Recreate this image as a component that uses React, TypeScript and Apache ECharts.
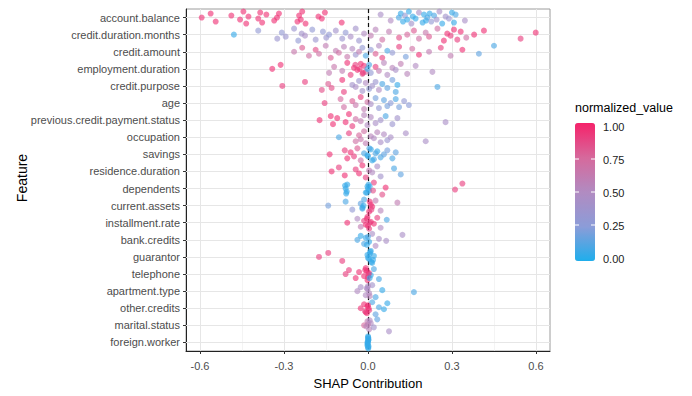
import React, { useEffect, useRef } from "react";
import * as echarts from "echarts";

const FEATURES = [
  "account.balance",
  "credit.duration.months",
  "credit.amount",
  "employment.duration",
  "credit.purpose",
  "age",
  "previous.credit.payment.status",
  "occupation",
  "savings",
  "residence.duration",
  "dependents",
  "current.assets",
  "installment.rate",
  "bank.credits",
  "guarantor",
  "telephone",
  "apartment.type",
  "other.credits",
  "marital.status",
  "foreign.worker",
];

// [SHAP contribution, normalized_value]
const ACCOUNT_BALANCE = [
  [-0.594, 0.95], [-0.562, 0.95], [-0.544, 0.95], [-0.488, 0.95], [-0.457, 0.95], [-0.445, 0.95],
  [-0.435, 0.95], [-0.427, 0.95], [-0.392, 0.95], [-0.385, 0.95], [-0.378, 0.95], [-0.363, 0.95],
  [-0.335, 0.95], [-0.325, 0.95], [-0.318, 0.95], [-0.252, 0.95], [-0.246, 0.95], [-0.24, 0.95],
  [-0.235, 0.95], [-0.223, 0.95], [-0.177, 0.95], [-0.165, 0.95], [-0.154, 0.95], [-0.094, 0.95],
  [0.045, 0.45], [0.081, 0.5], [0.11, 0.1], [0.117, 0.05], [0.125, 0.05], [0.132, 0.3], [0.14, 0.05],
  [0.146, 0.05], [0.155, 0.4], [0.16, 0.05], [0.17, 0.05], [0.182, 0.45], [0.195, 0.05], [0.2, 0.05],
  [0.207, 0.05], [0.212, 0.1], [0.22, 0.05], [0.226, 0.3], [0.236, 0.1], [0.245, 0.4], [0.255, 0.45],
  [0.265, 0.05], [0.277, 0.4], [0.289, 0.35], [0.3, 0.05], [0.307, 0.05], [0.313, 0.1], [0.346, 0.45],
];
const CREDIT_DURATION = [
  [-0.479, 0.05], [-0.392, 0.3], [-0.324, 0.35], [-0.308, 0.3], [-0.294, 0.35], [-0.264, 0.35],
  [-0.249, 0.3], [-0.237, 0.4], [-0.225, 0.45], [-0.199, 0.3], [-0.187, 0.35], [-0.161, 0.3],
  [-0.149, 0.35], [-0.139, 0.3], [-0.115, 0.4], [-0.092, 0.35], [-0.08, 0.3], [-0.062, 0.45],
  [-0.044, 0.4], [-0.032, 0.35], [-0.014, 0.5], [0.01, 0.6], [0.027, 0.55], [0.051, 0.7], [0.075, 0.6],
  [0.111, 0.85], [0.14, 0.75], [0.164, 0.8], [0.182, 0.7], [0.206, 0.65], [0.218, 0.8], [0.248, 0.7],
  [0.271, 0.95], [0.283, 0.95], [0.295, 0.9], [0.307, 0.95], [0.319, 0.9], [0.331, 0.95], [0.351, 0.7],
  [0.379, 0.95], [0.414, 0.95], [0.545, 0.9], [0.599, 0.95],
];
const CREDIT_AMOUNT = [
  [-0.264, 0.65], [-0.235, 0.8], [-0.211, 0.7], [-0.187, 0.85], [-0.175, 0.7], [-0.151, 0.6],
  [-0.133, 0.8], [-0.115, 0.6], [-0.104, 0.7], [-0.086, 0.55], [-0.074, 0.65], [-0.056, 0.5],
  [-0.044, 0.35], [-0.032, 0.6], [-0.02, 0.3], [-0.008, 0.1], [0.01, 0.3], [0.027, 0.8], [0.039, 0.5],
  [0.051, 0.9], [0.069, 0.1], [0.087, 0.3], [0.111, 0.9], [0.135, 0.2], [0.158, 0.7], [0.182, 0.95],
  [0.218, 0.6], [0.26, 0.9], [0.295, 0.6], [0.337, 0.95], [0.396, 0.15], [0.45, 0.1],
];
const EMPLOYMENT_DURATION = [
  [-0.342, 0.95], [-0.312, 0.95], [-0.139, 0.6], [-0.121, 0.65], [-0.092, 0.6], [-0.074, 0.95],
  [-0.062, 0.9], [-0.05, 0.95], [-0.038, 0.95], [-0.026, 0.95], [-0.02, 0.8], [-0.014, 0.95],
  [-0.008, 0.7], [-0.002, 0.05], [0.004, 0.1], [0.01, 0.3], [0.027, 0.9], [0.039, 0.6], [0.057, 0.55],
  [0.069, 0.5], [0.087, 0.55], [0.099, 0.45], [0.117, 0.6], [0.14, 0.55], [0.17, 0.5], [0.23, 0.5],
  [-0.03, 0.95], [-0.045, 0.9], [-0.018, 0.95],
];
const CREDIT_PURPOSE = [
  [-0.306, 0.9], [-0.225, 0.9], [-0.165, 0.85], [-0.142, 0.8], [-0.13, 0.85], [-0.092, 0.95],
  [-0.086, 0.9], [-0.056, 0.4], [-0.044, 0.45], [-0.032, 0.35], [-0.02, 0.4], [-0.008, 0.5],
  [0.004, 0.3], [0.015, 0.4], [0.027, 0.35], [0.039, 0.5], [0.051, 0.1], [0.069, 0.15], [0.087, 0.2],
  [0.099, 0.1], [0.105, 0.05], [0.248, 0.1],
];
const AGE = [
  [-0.155, 0.9], [-0.098, 0.75], [-0.086, 0.7], [-0.056, 0.8], [-0.044, 0.65], [-0.026, 0.9],
  [-0.014, 0.6], [-0.002, 0.7], [0.01, 0.45], [0.027, 0.2], [0.039, 0.3], [0.057, 0.15], [0.069, 0.2],
  [0.081, 0.25], [0.099, 0.1], [0.111, 0.2], [0.129, 0.3], [0.146, 0.25],
];
const PREVIOUS_CREDIT = [
  [-0.173, 0.95], [-0.133, 0.95], [-0.125, 0.95], [-0.11, 0.95], [-0.08, 0.95], [-0.068, 0.95],
  [-0.056, 0.9], [-0.044, 0.7], [-0.026, 0.6], [-0.014, 0.55], [-0.002, 0.5], [0.01, 0.5], [0.027, 0.45],
  [0.045, 0.4], [0.063, 0.1], [0.087, 0.35], [0.105, 0.4], [0.277, 0.45],
];
const OCCUPATION = [
  [-0.104, 0.1], [-0.068, 0.9], [-0.044, 0.7], [-0.032, 0.75], [-0.026, 0.65], [-0.014, 0.7],
  [-0.008, 0.6], [0.01, 0.55], [0.021, 0.5], [0.033, 0.55], [0.045, 0.45], [0.057, 0.5], [0.069, 0.35],
  [0.081, 0.45], [0.135, 0.45], [0.206, 0.45],
];
const SAVINGS = [
  [-0.137, 0.95], [-0.083, 0.9], [-0.074, 0.95], [-0.062, 0.95], [-0.05, 0.9], [-0.038, 0.8],
  [-0.026, 0.7], [-0.014, 0.1], [-0.002, 0.05], [0.01, 0.05], [0.021, 0.1], [0.033, 0.05], [0.045, 0.1],
  [0.057, 0.15], [0.069, 0.2], [0.087, 0.1], [0.099, 0.15],
  [0.0, 0.05], [0.005, 0.1], [0.015, 0.05], [0.027, 0.1],
];
const RESIDENCE_DURATION = [
  [-0.13, 0.95], [-0.104, 0.9], [-0.083, 0.95], [-0.044, 0.9], [-0.032, 0.95], [-0.02, 0.95],
  [-0.008, 0.9], [0.004, 0.6], [0.015, 0.5], [0.033, 0.45], [0.045, 0.4], [0.093, 0.1], [0.117, 0.15],
];
const DEPENDENTS = [
  [-0.08, 0.05], [-0.074, 0.05], [-0.008, 0.05], [-0.002, 0.05], [0.004, 0.05], [0.021, 0.9],
  [0.051, 0.85], [0.063, 0.95], [0.311, 0.9], [0.337, 0.9],
  [-0.078, 0.05], [-0.082, 0.05], [-0.076, 0.05], [0.0, 0.05], [0.002, 0.05], [-0.004, 0.05],
  [0.006, 0.05], [0.018, 0.85],
];
const CURRENT_ASSETS = [
  [-0.142, 0.2], [-0.08, 0.1], [-0.056, 0.3], [-0.026, 0.15], [-0.02, 0.05], [-0.014, 0.1],
  [0.004, 0.95], [0.01, 0.9], [0.015, 0.95], [0.027, 0.6], [0.045, 0.55], [0.105, 0.6],
  [-0.02, 0.1], [-0.016, 0.05], [0.006, 0.95], [0.012, 0.9],
];
const INSTALLMENT_RATE = [
  [-0.074, 0.95], [-0.038, 0.5], [-0.026, 0.6], [-0.014, 0.9], [-0.008, 0.95], [-0.002, 0.95],
  [0.004, 0.9], [0.01, 0.95], [0.021, 0.95], [0.033, 0.9], [0.045, 0.5], [0.067, 0.1],
  [0.0, 0.95], [0.006, 0.9], [-0.004, 0.95],
];
const BANK_CREDITS = [
  [-0.038, 0.1], [-0.026, 0.05], [-0.014, 0.1], [-0.008, 0.05], [0.004, 0.05], [0.015, 0.45],
  [0.027, 0.5], [0.039, 0.45], [0.065, 0.45], [0.123, 0.45],
  [-0.004, 0.05], [0.0, 0.1],
];
const GUARANTOR = [
  [-0.175, 0.9], [-0.142, 0.9], [-0.092, 0.9], [-0.002, 0.05], [0.004, 0.05], [0.01, 0.05],
  [0.015, 0.05], [0.021, 0.05],
  [0.0, 0.05], [0.008, 0.05], [0.012, 0.05], [0.006, 0.05], [0.018, 0.05],
];
const TELEPHONE = [
  [-0.08, 0.9], [-0.068, 0.9], [-0.044, 0.95], [-0.032, 0.95], [-0.014, 0.95], [-0.008, 0.95],
  [-0.002, 0.95], [0.004, 0.95], [0.01, 0.05], [0.021, 0.1], [0.039, 0.1],
  [-0.004, 0.95], [0.0, 0.95], [0.002, 0.9], [-0.01, 0.95], [0.006, 0.05],
];
const APARTMENT_TYPE = [
  [-0.038, 0.5], [-0.026, 0.45], [-0.008, 0.5], [-0.002, 0.55], [0.004, 0.5], [0.015, 0.4],
  [0.027, 0.1], [0.051, 0.05], [0.164, 0.1],
  [0.0, 0.5], [0.006, 0.55], [-0.004, 0.45],
];
const OTHER_CREDITS = [
  [-0.026, 0.95], [-0.014, 0.95], [-0.008, 0.95], [-0.002, 0.95], [0.004, 0.9], [0.015, 0.1],
  [0.027, 0.15], [0.039, 0.1], [0.057, 0.05], [0.069, 0.05],
  [-0.004, 0.95], [0.0, 0.95], [-0.01, 0.9], [0.002, 0.95],
];
const MARITAL_STATUS = [
  [-0.014, 0.75], [-0.002, 0.6], [0.004, 0.55], [0.01, 0.5], [0.021, 0.4], [0.033, 0.15], [0.075, 0.45],
  [0.0, 0.6], [-0.006, 0.55], [0.006, 0.5],
];
const FOREIGN_WORKER = [
  [-0.002, 0.05], [0.0, 0.05], [0.002, 0.05], [0.001, 0.05], [-0.001, 0.05], [0.0, 0.05], [0.001, 0.05],
  [0.0, 0.05], [-0.001, 0.05], [0.001, 0.05], [0.0, 0.05], [0.002, 0.05], [-0.002, 0.05],
];

const VALUES_BY_FEATURE = [
  ACCOUNT_BALANCE, CREDIT_DURATION, CREDIT_AMOUNT, EMPLOYMENT_DURATION, CREDIT_PURPOSE, AGE,
  PREVIOUS_CREDIT, OCCUPATION, SAVINGS, RESIDENCE_DURATION, DEPENDENTS, CURRENT_ASSETS,
  INSTALLMENT_RATE, BANK_CREDITS, GUARANTOR, TELEPHONE, APARTMENT_TYPE, OTHER_CREDITS,
  MARITAL_STATUS, FOREIGN_WORKER,
];

const X_MAJOR = [-0.6, -0.3, 0, 0.3, 0.6];
const X_MINOR = [-0.45, -0.15, 0.15, 0.45];
const LEGEND_TICKS = [1.0, 0.75, 0.5, 0.25, 0.0];

// style constants
const JITTER = [0, -4, 4, -2, 2, -6, 6, -1, 1, -5, 5, -3, 3];
const COLORS = ["#1FAEEC", "#8C9CD8", "#B18BC1", "#D6699C", "#F5226A"];
const FONT = "Liberation Sans, Arial, sans-serif";
const BAR_LEFT = 575;
const BAR_TOP = 123;
const BAR_W = 20;
const BAR_H = 138;

export default function App() {
  const ref = useRef<HTMLDivElement>(null);

  useEffect(() => {
    document.body.style.margin = "0";
    document.body.style.overflow = "hidden";
    if (!ref.current) return;
    const chart = echarts.init(ref.current, null, { renderer: "svg" });

    const points: any[] = [];
    VALUES_BY_FEATURE.forEach((arr, fi) => {
      arr.forEach(([s, v], i) => {
        points.push({
          value: [s, FEATURES[fi], v],
          symbolOffset: [0, JITTER[i % JITTER.length]],
        });
      });
    });

    const gridLines: any[] = [
      ...X_MINOR.map((x) => ({ xAxis: x, lineStyle: { color: "#EDEDED", width: 0.6, type: "solid" } })),
      ...X_MAJOR.map((x) => ({ xAxis: x, lineStyle: { color: "#E6E6E6", width: 1, type: "solid" } })),
      ...FEATURES.map((f) => ({ yAxis: f, lineStyle: { color: "#E6E6E6", width: 1, type: "solid" } })),
      { xAxis: 0, lineStyle: { color: "#111", width: 1.2, type: [4, 3] } },
    ];

    const legendGraphics: any[] = [];
    LEGEND_TICKS.forEach((v) => {
      const y = BAR_TOP + 3 + (1 - v) * (BAR_H - 6);
      legendGraphics.push({
        type: "text",
        left: BAR_LEFT + BAR_W + 8,
        top: y - 5,
        style: { text: v.toFixed(2), fontSize: 11, fontFamily: FONT, fill: "#222" },
      });
      if (v > 0 && v < 1) {
        legendGraphics.push({
          type: "line",
          shape: { x1: BAR_LEFT, y1: y, x2: BAR_LEFT + 4, y2: y },
          style: { stroke: "#fff", lineWidth: 1 },
          z: 100,
        });
        legendGraphics.push({
          type: "line",
          shape: { x1: BAR_LEFT + BAR_W - 4, y1: y, x2: BAR_LEFT + BAR_W, y2: y },
          style: { stroke: "#fff", lineWidth: 1 },
          z: 100,
        });
      }
    });

    chart.setOption({
      animation: false,
      backgroundColor: "#fff",
      textStyle: { fontFamily: FONT },
      grid: {
        left: 186,
        right: 142,
        top: 9,
        bottom: 45,
        show: true,
        borderColor: "#9C9C9C",
        borderWidth: 1,
        containLabel: false,
        outerBoundsMode: "none",
      },
      xAxis: {
        type: "value",
        min: -0.65,
        max: 0.65,
        splitLine: { show: false },
        axisLine: { show: true, onZero: false, lineStyle: { color: "#222", width: 1 } },
        axisTick: { show: true, length: 3, customValues: X_MAJOR, lineStyle: { color: "#333" } },
        axisLabel: {
          customValues: X_MAJOR,
          formatter: (v: number) => v.toFixed(1),
          color: "#4D4D4D",
          fontSize: 11,
          fontFamily: FONT,
          margin: 9,
        },
        name: "SHAP Contribution",
        nameLocation: "middle",
        nameGap: 26,
        nameTextStyle: { fontSize: 13, color: "#000", fontFamily: FONT },
      },
      yAxis: {
        type: "category",
        data: FEATURES,
        inverse: true,
        splitLine: { show: false },
        axisLine: { show: true, onZero: false, lineStyle: { color: "#222", width: 1 } },
        axisTick: { show: true, length: 3, alignWithLabel: true, lineStyle: { color: "#333" } },
        axisLabel: { color: "#4D4D4D", fontSize: 11, fontFamily: FONT, margin: 6 },
      },
      visualMap: {
        type: "continuous",
        min: 0,
        max: 1,
        dimension: 2,
        seriesIndex: 1,
        show: true,
        calculable: false,
        left: BAR_LEFT,
        top: BAR_TOP,
        padding: 0,
        itemWidth: BAR_W,
        itemHeight: BAR_H,
        inRange: { color: COLORS },
        textStyle: { color: "#222" },
      },
      graphic: [
        {
          type: "text",
          left: BAR_LEFT,
          top: 101,
          style: { text: "normalized_value", fontSize: 12.5, fontFamily: FONT, fill: "#000" },
        },
        {
          type: "text",
          x: 22,
          y: 178,
          rotation: Math.PI / 2,
          style: {
            text: "Feature",
            fontSize: 14,
            fontFamily: FONT,
            fill: "#000",
            align: "center",
            verticalAlign: "middle",
          },
        },
        ...legendGraphics,
      ],
      series: [
        {
          type: "scatter",
          data: [],
          silent: true,
          z: 1,
          markLine: {
            silent: true,
            symbol: ["none", "none"],
            label: { show: false },
            z: 1,
            data: gridLines,
          },
        },
        {
          type: "scatter",
          data: points,
          z: 3,
          symbolSize: 6,
          itemStyle: { opacity: 0.62 },
        },
      ],
    });

    return () => chart.dispose();
  }, []);

  return <div ref={ref} style={{ width: 692, height: 396 }} />;
}
